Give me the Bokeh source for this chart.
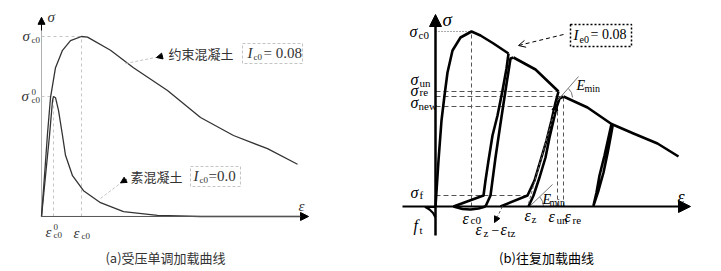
from bokeh.plotting import figure
from bokeh.layouts import row
from bokeh.models import Arrow, NormalHead, OpenHead
from bokeh.core.properties import value
from bokeh.embed import file_html
from bokeh.resources import INLINE

# ---------------- Panel (a): monotonic compression (schematic units) -------------
conf_eps = [0, 0.15, 0.3, 0.45, 0.7, 1.05, 1.45, 2.0, 2.3, 3.45, 4.6, 6.3, 7.95, 9.6, 11.3, 12.8]
conf_sig = [0, 6.8, 13.8, 19.8, 24.8, 27.7, 29.3, 30.0, 29.9, 27.7, 24.8, 21.0, 16.5, 13.5, 11.3, 8.7]
plain_eps = [0, 0.4, 0.55, 0.6, 0.7, 0.85, 1.05, 1.2, 1.55, 2.1, 2.95, 4.1, 5.8, 7.95, 12.95]
plain_sig = [0, 13.5, 19.3, 20.0, 19.8, 17.7, 13.5, 10.2, 6.8, 4.3, 2.3, 0.8, 0.2, 0, 0]
a_eps_c0, a_sig_c0 = 2.0, 30.0
a_eps_c00, a_sig_c00 = 0.6, 20.0
a_labels = ["约束混凝土", "素混凝土"]
a_index = ["= 0.08", "=0.0"]

# ---------------- Panel (b): cyclic loading (schematic units) ---------------------
env1_eps = [0, 0.15, 0.3, 0.45, 0.6, 0.85, 1.25, 1.8, 2.25, 2.9, 3.65]
env1_sig = [0, 9.2, 17.2, 22.2, 26.8, 31.2, 33.8, 35.0, 34.2, 32.6, 30.6]
unl1_eps = [3.65, 3.55, 3.35, 3.1, 2.85, 2.65, 2.5, 2.4, 0.9]
unl1_sig = [30.6, 27.6, 23.2, 18.2, 14.2, 9.2, 5.2, 2.2, 0]
arc1_eps = [0.9, 1.35, 1.75, 2.15, 2.5]
arc1_sig = [0, -0.5, -0.6, -0.4, 0]
rel1_eps = [2.5, 2.75, 3.0, 3.25, 3.5, 3.75, 3.9]
rel1_sig = [0, 2.2, 9.8, 16.6, 23.2, 29.6, 29.8]
env2_eps = [3.9, 5.0, 6.15]
env2_sig = [29.8, 27.4, 23.0]
unl2_eps = [6.15, 6.0, 5.8, 5.55, 5.25, 4.95, 4.6, 3.25]
unl2_sig = [23.0, 20.8, 17.2, 13.2, 9.2, 5.2, 2.2, 0]
rel2_eps = [4.65, 4.9, 5.2, 5.5, 5.7, 5.9, 6.05, 6.2, 6.4]
rel2_sig = [0, 2.2, 5.8, 9.8, 13.8, 17.2, 19.8, 21.6, 22.0]
env3_eps = [6.4, 7.6, 8.8, 9.9, 11.1, 12.15]
env3_sig = [22.0, 19.8, 16.5, 14.6, 12.6, 10.0]
lens_eps = [8.8, 8.65, 8.45, 8.2, 8.05, 7.9, 8.15, 8.4, 8.6, 8.75, 8.85, 8.8]
lens_sig = [16.5, 13.8, 10.2, 6.2, 2.8, 0.2, 3.2, 6.8, 10.6, 13.8, 16.0, 16.5]
ten_eps = [0, -0.5, -0.3, -0.12, 0]
ten_sig = [-0.1, -0.1, -0.6, -1.3, -2.2]
b_eps_c0, b_sig_c0 = 1.8, 35.0
b_sig_un, b_sig_re, b_sig_new, b_sig_f = 23.0, 22.0, 20.0, 2.2
b_eps_un, b_eps_re, b_eps_z1, b_eps_z2 = 6.1, 6.4, 3.35, 4.65
b_index = "= 0.08"

SERIF = "Liberation Serif"
CJK = "Noto Sans CJK SC"


def make_fig(w, xr, yr):
    p = figure(width=w, height=271, x_range=xr, y_range=yr, x_axis_type=None, y_axis_type=None,
               toolbar_location=None, output_backend="svg", min_border=0,
               outline_line_color=None, background_fill_color="white")
    return p


def put(p, x, y, s, size, dx=0, dy=0, italic=True, font=SERIF, align="left", color="black"):
    p.text(x=[x], y=[y], text=[s], x_offset=dx, y_offset=dy, text_font=value(font),
           text_font_size=f"{size}px", text_font_style="italic" if italic else "normal",
           text_align=align, text_baseline="middle", text_color=color)


# ============================ Panel (a) ===========================================
pa = make_fig(360, (-2.05, 15.95), (-9.17, 36.0))
GA = "#c4c4c4"
pa.line([0, 0], [0, 32], line_color="#b0b0b0", line_width=1)
pa.add_layout(Arrow(end=NormalHead(size=7, fill_color="black", line_color="black"),
                    x_start=0, y_start=31, x_end=0, y_end=33.2, line_color="black", line_width=1))
pa.add_layout(Arrow(end=NormalHead(size=8, fill_color="black", line_color="black"),
                    x_start=0, y_start=0, x_end=13.35, y_end=0, line_color="#555555", line_width=1))
# guides
pa.line([0, a_eps_c0], [a_sig_c0, a_sig_c0], line_color=GA, line_dash="3 3")
pa.line([a_eps_c0, a_eps_c0], [0, a_sig_c0], line_color=GA, line_dash="3 3")
pa.line([0, a_eps_c00], [a_sig_c00, a_sig_c00], line_color=GA, line_dash="3 3")
pa.line([a_eps_c00, a_eps_c00], [0, a_sig_c00], line_color=GA, line_dash="3 3")
# curves
pa.line(conf_eps, conf_sig, line_color="#333333", line_width=1.3)
pa.line(plain_eps, plain_sig, line_color="#333333", line_width=1.3)
# leaders
pa.line([4.2, 5.85], [25.5, 26.6], line_color=GA, line_dash="3 2")
pa.add_layout(Arrow(end=NormalHead(size=6, fill_color="black", line_color="black"),
                    x_start=6.05, y_start=26.75, x_end=5.75, y_end=26.5, line_color="black", line_width=1.5))
pa.line([2.95, 4.05], [3.0, 5.8], line_color=GA, line_dash="3 2")
pa.add_layout(Arrow(end=NormalHead(size=6, fill_color="black", line_color="black"),
                    x_start=4.25, y_start=6.2, x_end=3.95, y_end=5.6, line_color="black", line_width=1.5))
# boxes
pa.quad(left=[10.05], right=[13.05], top=[28.83], bottom=[25.5], fill_color=None,
        line_color=GA, line_dash="3 2", line_width=1)
pa.quad(left=[7.45], right=[9.95], top=[8.33], bottom=[5.0], fill_color=None,
        line_color=GA, line_dash="3 2", line_width=1)
TA = "#333333"
put(pa, 6.35, 27.17, a_labels[0], 13, italic=False, font=CJK, color=TA)
put(pa, 10.3, 27.17, "I", 15, color=TA)
put(pa, 10.3, 27.17, "c0", 9, dx=6, dy=4, italic=False, color=TA)
put(pa, 10.3, 27.17, a_index[0], 15, dx=16, italic=False, color=TA)
put(pa, 4.45, 6.67, a_labels[1], 13, italic=False, font=CJK, color=TA)
put(pa, 7.6, 6.67, "I", 15, color=TA)
put(pa, 7.6, 6.67, "c0", 9, dx=6, dy=4, italic=False, color=TA)
put(pa, 7.6, 6.67, a_index[1], 15, dx=15, italic=False, color=TA)
# axis labels
put(pa, 0.3, 33.2, "σ", 15, color=TA)
put(pa, 12.85, 1.67, "ε", 15, color=TA)
put(pa, -0.95, a_sig_c0, "σ", 15, color=TA)
put(pa, -0.95, a_sig_c0, "c0", 9, dx=9, dy=4, italic=False, color=TA)
put(pa, -1.0, a_sig_c00, "σ", 15, color=TA)
put(pa, -1.0, a_sig_c00, "0", 9, dx=10, dy=-4, italic=False, color=TA)
put(pa, -1.0, a_sig_c00, "c0", 9, dx=10, dy=4, italic=False, color=TA)
put(pa, 0.2, -2.6, "ε", 15, color=TA)
put(pa, 0.2, -2.6, "0", 9, dx=8, dy=-5, italic=False, color=TA)
put(pa, 0.2, -2.6, "c0", 9, dx=8, dy=3, italic=False, color=TA)
put(pa, 1.6, -2.67, "ε", 15, color=TA)
put(pa, 1.6, -2.67, "c0", 9, dx=8, dy=3, italic=False, color=TA)
put(pa, 6.2, -6.83, "(a)受压单调加载曲线", 13, italic=False, font=CJK, align="center", color=TA)

# ============================ Panel (b) ===========================================
pb = make_fig(361, (-3.75, 14.3), (-13.0, 41.2))
GD = "#555555"
# dashed reference lines
pb.line([0, b_eps_c0], [b_sig_c0, b_sig_c0], line_color=GD, line_dash="1 2", line_width=1)
pb.line([b_eps_c0, b_eps_c0], [0, b_sig_c0], line_color=GD, line_dash="4 3", line_width=1)
pb.line([0, b_eps_un], [b_sig_un, b_sig_un], line_color=GD, line_dash="5 3", line_width=1)
pb.line([0, b_eps_re], [b_sig_re, b_sig_re], line_color=GD, line_dash="5 3", line_width=1)
pb.line([0, 6.05], [b_sig_new, b_sig_new], line_color=GD, line_dash="5 3", line_width=1)
pb.line([0, 4.6], [b_sig_f, b_sig_f], line_color=GD, line_dash="5 3", line_width=1)
pb.line([b_eps_un, b_eps_un], [0, b_sig_un], line_color=GD, line_dash="4 3", line_width=1)
pb.line([b_eps_re, b_eps_re], [0, b_sig_re], line_color=GD, line_dash="4 3", line_width=1)
# axes
pb.add_layout(Arrow(end=NormalHead(size=12, fill_color="black", line_color="black"),
                    x_start=0, y_start=-5.8, x_end=0, y_end=38.4, line_color="black", line_width=2.5))
pb.add_layout(Arrow(end=NormalHead(size=12, fill_color="black", line_color="black"),
                    x_start=-1.65, y_start=0, x_end=12.75, y_end=0, line_color="black", line_width=2))
# curves
LW = 2.6
for xs, ys in [(env1_eps, env1_sig), (unl1_eps, unl1_sig), (arc1_eps, arc1_sig),
               (rel1_eps, rel1_sig), (env2_eps, env2_sig), (unl2_eps, unl2_sig),
               (rel2_eps, rel2_sig), (env3_eps, env3_sig), (lens_eps, lens_sig)]:
    pb.line(xs, ys, line_color="black", line_width=LW, line_join="round")
pb.line(ten_eps, ten_sig, line_color="black", line_width=2.2, line_join="round")
# Emin construction lines
pb.line([6.1, 7.15], [21.2, 26.0], line_color="#777777", line_width=1)
pb.arc(x=[6.25], y=[21.8], radius=12, radius_units="screen", start_angle=0, end_angle=0.85,
       line_color="#777777", line_width=1)
pb.line([4.7, 5.85], [0, 4.4], line_color="#777777", line_width=1)
pb.arc(x=[4.7], y=[0], radius=14, radius_units="screen", start_angle=0, end_angle=0.75,
       line_color="#777777", line_width=1)
pb.add_layout(Arrow(end=NormalHead(size=6, fill_color="black", line_color="black"),
                    x_start=b_eps_z2, y_start=0.6, x_end=6.05, y_end=20.4,
                    line_color="#666666", line_width=1, line_dash="3 2"))
pb.add_layout(Arrow(end=NormalHead(size=6, fill_color="black", line_color="black"),
                    x_start=b_eps_z1, y_start=0, x_end=2.95, y_end=-3.2,
                    line_color="#666666", line_width=1, line_dash="3 2"))
# index box and its arrow
pb.quad(left=[6.75], right=[9.8], top=[36.4], bottom=[32.0], fill_color=None,
        line_color="black", line_dash="2 2", line_width=1.5)
pb.add_layout(Arrow(end=OpenHead(size=7, line_color="black", line_width=1),
                    x_start=6.4, y_start=34.4, x_end=4.15, y_end=32.2,
                    line_color="black", line_width=1, line_dash="4 3"))
put(pb, 6.9, 34.4, "I", 15)
put(pb, 6.9, 34.4, "e0", 10, dx=6, dy=5, italic=False)
put(pb, 6.9, 34.4, b_index, 14, dx=17, italic=False)
# labels
put(pb, 0.35, 37.4, "σ", 19)
put(pb, 12.1, 2.0, "ε", 18)
put(pb, -1.3, b_sig_c0, "σ", 16)
put(pb, -1.3, b_sig_c0, "c0", 11, dx=9, dy=3, italic=False)
put(pb, -1.25, 25.4, "σ", 16)
put(pb, -1.25, 25.4, "un", 11, dx=9, dy=3, italic=False)
put(pb, -1.25, 23.2, "σ", 16)
put(pb, -1.25, 23.2, "re", 11, dx=9, dy=1, italic=False)
put(pb, -1.25, 20.9, "σ", 16)
put(pb, -1.25, 20.9, "new", 11, dx=8, dy=4, italic=False)
put(pb, -1.25, 2.9, "σ", 16)
put(pb, -1.25, 2.9, "f", 11, dx=9, dy=3, italic=False)
put(pb, -1.1, -3.8, "f", 16)
put(pb, -1.1, -3.8, "t", 11, dx=6, dy=4, italic=False)
put(pb, 1.35, -2.3, "ε", 16)
put(pb, 1.35, -2.3, "c0", 11, dx=8, dy=2, italic=False)
put(pb, 2.0, -4.6, "ε", 16)
put(pb, 2.0, -4.6, "z", 11, dx=8, dy=3, italic=False)
put(pb, 2.0, -4.6, "−", 14, dx=16, italic=False)
put(pb, 2.0, -4.6, "ε", 16, dx=25)
put(pb, 2.0, -4.6, "tz", 11, dx=32, dy=3, italic=False)
put(pb, 4.45, -1.8, "ε", 16)
put(pb, 4.45, -1.8, "z", 11, dx=7, dy=3, italic=False)
put(pb, 5.65, -2.0, "ε", 16)
put(pb, 5.65, -2.0, "un", 11, dx=8, dy=3, italic=False)
put(pb, 5.65, -2.0, "ε", 16, dx=16)
put(pb, 5.65, -2.0, "re", 11, dx=24, dy=3, italic=False)
put(pb, 7.05, 24.2, "E", 14)
put(pb, 7.05, 24.2, "min", 10, dx=8, dy=3, italic=False)
put(pb, 5.35, 1.4, "E", 14)
put(pb, 5.35, 1.4, "min", 10, dx=7, dy=3, italic=False)
put(pb, 5.55, -10.2, "(b)往复加载曲线", 13, italic=False, font=CJK, align="center")

layout = row(pa, pb, spacing=0)
open("out.html", "w").write(file_html(layout, INLINE))
